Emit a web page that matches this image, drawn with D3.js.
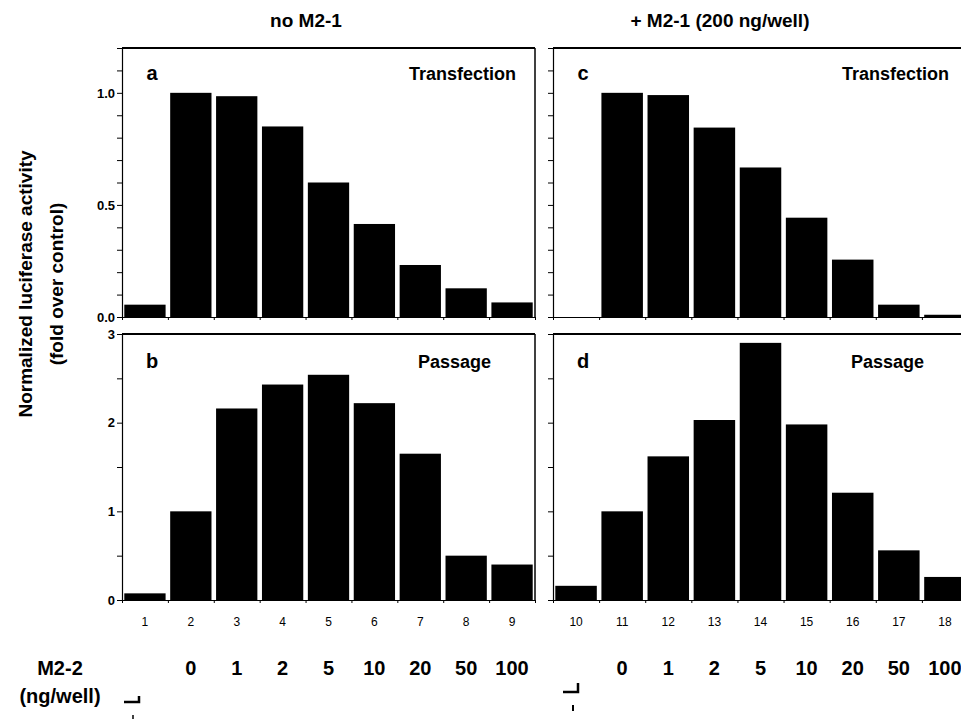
<!DOCTYPE html>
<html>
<head>
<meta charset="utf-8">
<script src="https://cdn.jsdelivr.net/npm/d3@7"></script>
<style>
  body { margin: 0; background: #fff; }
  svg { display: block; font-family: "Liberation Sans", Arial, Helvetica, sans-serif; }
  .axis path, .axis line { stroke: #000; }
  .axis text { fill: #000; }
</style>
</head>
<body>
<div id="chart"></div>
<script>
// lanes and M2-2 doses
const lanesLeft = ["1", "2", "3", "4", "5", "6", "7", "8", "9"];
const lanesRight = ["10", "11", "12", "13", "14", "15", "16", "17", "18"];
const doses = ["", "0", "1", "2", "5", "10", "20", "50", "100"];

// normalized luciferase activity (fold over control)
const transfectionNoM21 = [0.055, 1.0, 0.985, 0.85, 0.60, 0.415, 0.232, 0.128, 0.065];
const transfectionM21 = [0.0, 1.0, 0.99, 0.845, 0.667, 0.443, 0.256, 0.055, 0.01];
const passageNoM21 = [0.075, 1.0, 2.16, 2.43, 2.54, 2.22, 1.65, 0.50, 0.40];
const passageM21 = [0.16, 1.0, 1.62, 2.03, 2.90, 1.98, 1.21, 0.56, 0.26];

const columnTitles = ["no M2-1", "+ M2-1 (200 ng/well)"];

const width = 961, height = 719;
const svg = d3.select("#chart").append("svg")
  .attr("width", width)
  .attr("height", height);

// column layout (right column runs a little past the window edge, like the scan)
const cols = [
  { x: 122, w: 413, lanes: lanesLeft },
  { x: 553, w: 415, lanes: lanesRight }
];
const rows = [
  { y: 48, h: 269, max: 1.2, minor: 0.1, major: [0, 0.5, 1.0], fmt: d3.format(".1f"), title: "Transfection", titleRight: 19 },
  { y: 334, h: 266, max: 3, minor: 0.5, major: [0, 1, 2, 3], fmt: d3.format("d"), title: "Passage", titleRight: 44 }
];

const panels = [
  { col: 0, row: 0, letter: "a", values: transfectionNoM21 },
  { col: 1, row: 0, letter: "c", values: transfectionM21 },
  { col: 0, row: 1, letter: "b", values: passageNoM21 },
  { col: 1, row: 1, letter: "d", values: passageM21 }
];

panels.forEach(p => {
  const c = cols[p.col], r = rows[p.row];
  const g = svg.append("g").attr("transform", `translate(${c.x},${r.y})`);

  const x = d3.scaleBand()
    .domain(c.lanes)
    .range([0, c.w])
    .paddingInner(0.1)
    .paddingOuter(0.05);

  const edges = d3.scaleLinear().domain([0, c.lanes.length]).range([0, c.w]);

  const y = d3.scaleLinear().domain([0, r.max]).range([r.h, 0]);

  // bars
  g.selectAll("rect.bar")
    .data(p.values)
    .join("rect")
    .attr("class", "bar")
    .attr("x", (d, i) => x(c.lanes[i]))
    .attr("width", x.bandwidth())
    .attr("y", d => y(d))
    .attr("height", d => y(0) - y(d))
    .attr("fill", "#000");

  // y axis, minor ticks with labels only on the left column
  const tickVals = d3.range(0, r.max + 1e-6, r.minor);
  const yAxis = d3.axisLeft(y)
    .tickValues(tickVals)
    .tickSize(5)
    .tickSizeOuter(0)
    .tickPadding(2)
    .tickFormat(d => {
      if (p.col === 1) return "";
      return r.major.some(m => Math.abs(m - d) < 1e-6) ? r.fmt(d) : "";
    });
  g.append("g").attr("class", "axis y-axis")
    .call(yAxis)
    .call(a => a.select(".domain").attr("stroke-width", 1.2))
    .call(a => a.selectAll("text").attr("font-size", 13).attr("font-weight", "bold"));

  // baseline with little ticks between lanes
  g.append("g").attr("class", "axis x-axis")
    .attr("transform", `translate(0,${r.h})`)
    .call(d3.axisBottom(edges).tickValues(d3.range(0, c.lanes.length + 1)).tickSize(3).tickSizeOuter(0).tickFormat(""))
    .call(a => a.select(".domain").attr("stroke-width", 1.2));

  // lane numbers under the lower panels
  if (p.row === 1) {
    g.append("g").attr("class", "axis lane-axis")
      .attr("transform", `translate(0,${r.h})`)
      .call(d3.axisBottom(x).tickSize(0).tickPadding(17))
      .call(a => a.select(".domain").remove())
      .call(a => a.selectAll("text").attr("font-size", 12));
  }

  // frame: heavy top line, right border
  g.append("line").attr("x1", 0).attr("x2", c.w).attr("y1", 0).attr("y2", 0)
    .attr("stroke", "#000").attr("stroke-width", 2);
  g.append("line").attr("x1", c.w).attr("x2", c.w).attr("y1", 0).attr("y2", r.h)
    .attr("stroke", "#000").attr("stroke-width", 1.5);

  // panel letter and title
  g.append("text")
    .attr("x", 30).attr("y", p.row === 0 ? 32 : 34)
    .attr("text-anchor", "middle")
    .attr("font-size", 20).attr("font-weight", "bold")
    .text(p.letter);
  g.append("text")
    .attr("x", c.w - r.titleRight).attr("y", p.row === 0 ? 32 : 34)
    .attr("text-anchor", "end")
    .attr("font-size", 18).attr("font-weight", "bold")
    .text(r.title);

  // M2-2 doses
  if (p.row === 1) {
    svg.append("g")
      .selectAll("text")
      .data(doses)
      .join("text")
      .attr("x", (d, i) => c.x + x(c.lanes[i]) + x.bandwidth() / 2)
      .attr("y", 675)
      .attr("text-anchor", "middle")
      .attr("font-size", 20).attr("font-weight", "bold")
      .text(d => d);
  }
});

// column titles
columnTitles.forEach((t, i) => {
  svg.append("text")
    .attr("x", i === 0 ? 306 : 720)
    .attr("y", 27)
    .attr("text-anchor", "middle")
    .attr("font-size", 19).attr("font-weight", "bold")
    .text(t);
});

// y axis title
const yTitle = svg.append("text")
  .attr("transform", "translate(0,284) rotate(-90)")
  .attr("text-anchor", "middle")
  .attr("font-size", 19).attr("font-weight", "bold");
yTitle.append("tspan").attr("x", 0).attr("y", 32).text("Normalized luciferase activity");
yTitle.append("tspan").attr("x", 0).attr("y", 63).text("(fold over control)");

// row label for doses
svg.append("text").attr("x", 60).attr("y", 675).attr("text-anchor", "middle")
  .attr("font-size", 20).attr("font-weight", "bold").text("M2-2");
svg.append("text").attr("x", 60).attr("y", 703).attr("text-anchor", "middle")
  .attr("font-size", 20).attr("font-weight", "bold").text("(ng/well)");

// small bracket marks from the scan
svg.append("path").attr("d", "M124,702H139V696").attr("fill", "none").attr("stroke", "#000").attr("stroke-width", 2.5);
svg.append("path").attr("d", "M133,715V719").attr("stroke", "#000").attr("stroke-width", 1.5);
svg.append("path").attr("d", "M563,692H578V683").attr("fill", "none").attr("stroke", "#000").attr("stroke-width", 2.5);
svg.append("path").attr("d", "M573,705V711").attr("stroke", "#000").attr("stroke-width", 2);
</script>
</body>
</html>
